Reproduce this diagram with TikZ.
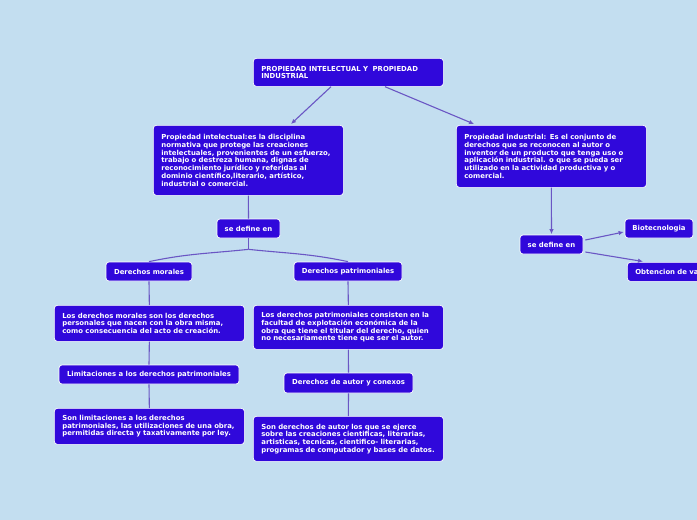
\documentclass[tikz,border=0pt]{standalone}
\usepackage{fontspec}
\setmainfont{DejaVu Sans}
\usetikzlibrary{arrows.meta}
\definecolor{bgc}{HTML}{C3DEF0}
\definecolor{boxc}{HTML}{3008DB}
\definecolor{linec}{HTML}{6A56C4}
\tikzset{
  box/.style={draw=white, line width=0.7pt, fill=boxc, rounded corners=3pt,
    text=white, font=\fontsize{6.9}{7.7}\selectfont\bfseries, inner xsep=8pt, inner ysep=2pt},
  mbox/.style={box, anchor=north west, align=left},
  sbox/.style={box, minimum height=19pt, align=center, inner xsep=2pt},
  conn/.style={draw=linec, line width=1.1pt},
  arr/.style={conn, -{Latex[length=5pt,width=4.5pt]}},
}
\begin{document}
\begin{tikzpicture}[x=1pt,y=-1pt]
\fill[bgc] (0,0) rectangle (697,520);
\useasboundingbox (0,0) rectangle (697,520);
\clip (0,0) rectangle (697,520);

\node[mbox, minimum width=190pt, minimum height=28pt, text width=174pt] (title) at (253,58)
 {PROPIEDAD INTELECTUAL Y~ PROPIEDAD\\INDUSTRIAL};

\node[mbox, minimum width=190pt, minimum height=70pt, text width=174pt] (pi) at (153,125)
 {Propiedad intelectual:es la disciplina\\
  normativa que protege las creaciones\\
  intelectuales, provenientes de un esfuerzo,\\
  trabajo o destreza humana, dignas de\\
  reconocimiento jurídico y referidas al\\
  dominio científico,literario, artístico,\\
  industrial o comercial.};

\node[mbox, minimum width=190pt, minimum height=62pt, text width=174pt] (pind) at (456,125)
 {Propiedad industrial: Es el conjunto de\\
  derechos que se reconocen al autor o\\
  inventor de un producto que tenga uso o\\
  aplicación industrial. o que se pueda ser\\
  utilizado en la actividad productiva y o\\
  comercial.};

\node[sbox, minimum width=63pt] (def1) at (248.5,228.5) {se define en};
\node[sbox, minimum width=86pt] (mor) at (149,271.5) {Derechos morales};
\node[sbox, minimum width=108pt] (pat) at (348,271.5) {Derechos patrimoniales};

\node[mbox, minimum width=190pt, minimum height=36pt, text width=174pt] (mortext) at (54,305)
 {Los derechos morales son los derechos\\
  personales que nacen con la obra misma,\\
  como consecuencia del acto de creación.};

\node[sbox, minimum width=180pt] (lim) at (149,374.5) {Limitaciones a los derechos patrimoniales};

\node[mbox, minimum width=190pt, minimum height=36pt, text width=174pt] (limtext) at (54,408)
 {Son limitaciones a los derechos\\
  patrimoniales, las utilizaciones de una obra,\\
  permitidas directa y taxativamente por ley.};

\node[mbox, minimum width=190pt, minimum height=44pt, text width=174pt] (pattext) at (253,305)
 {Los derechos patrimoniales consisten en la\\
  facultad de explotación económica de la\\
  obra que tiene el titular del derecho, quien\\
  no necesariamente tiene que ser el autor.};

\node[sbox, minimum width=129pt, minimum height=20pt] (dac) at (348.5,383) {Derechos de autor y conexos};

\node[mbox, minimum width=190pt, minimum height=45pt, text width=174pt] (dactext) at (253,416)
 {Son derechos de autor los que se ejerce\\
  sobre las creaciones cientificas, literarias,\\
  artisticas, tecnicas, cientifico- literarias,\\
  programas de computador y bases de datos.};

\node[sbox, minimum width=63pt] (def2) at (551.5,244.5) {se define en};
\node[sbox, minimum width=68pt] (bio) at (659,228.5) {Biotecnologia};
\node[mbox, minimum width=110pt, minimum height=19pt, text width=94pt, inner ysep=0pt] (obt) at (627,262)
 {Obtencion de va};

% connectors
\draw[arr] ([xshift=78pt]title.south west) -- ([xshift=138pt,yshift=1pt]pi.north west);
\draw[arr] ([xshift=132pt]title.south west) -- ([xshift=18pt,yshift=1pt]pind.north west);
\draw[conn] (pi.south) -- (def1.north);
\draw[conn] (def1.south) -- ++(0,11) coordinate (j1);
\draw[conn] (j1) to[out=186,in=12] (mor.north);
\draw[conn] (j1) to[out=-6,in=168] (pat.north);
\draw[conn] (mor.south) -- (mortext.north);
\draw[conn] (mortext.south) -- (lim.north);
\draw[conn] (lim.south) -- (limtext.north);
\draw[conn] (pat.south) -- (pattext.north);
\draw[conn] (pattext.south) -- (dac.north);
\draw[conn] (dac.south) -- (dactext.north);
\draw[arr] (pind.south) -- ([yshift=0.5pt]def2.north);
\draw[arr] ([xshift=2pt,yshift=4.5pt]def2.east) -- ([xshift=-1pt,yshift=-3.5pt]bio.west);
\draw[arr] ([xshift=2pt,yshift=-7.5pt]def2.east) -- ([xshift=16pt,yshift=0.5pt]obt.north west);
\end{tikzpicture}
\end{document}
